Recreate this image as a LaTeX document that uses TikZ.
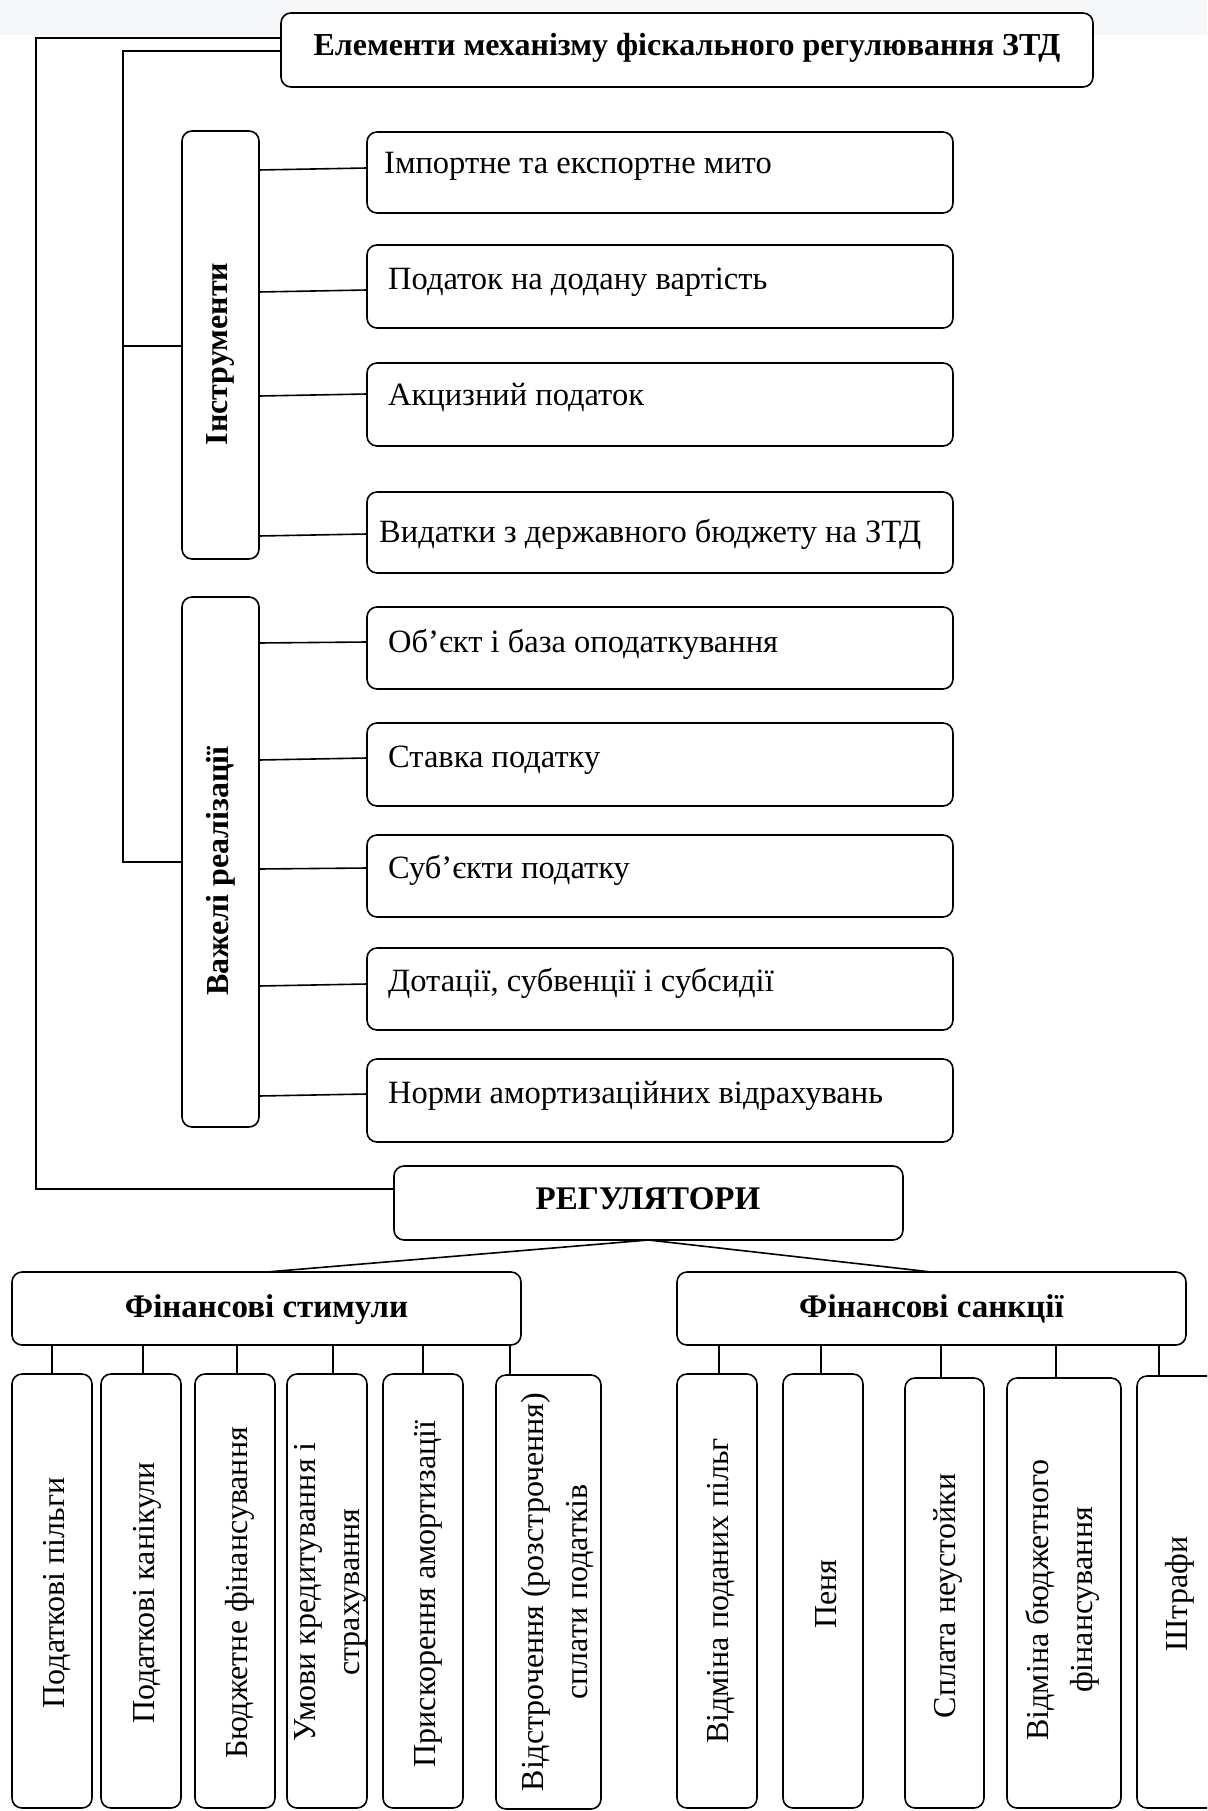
\documentclass[tikz,border=0pt]{standalone}
\usepackage{fontspec}
\setmainfont{Liberation Serif}
\usetikzlibrary{calc}
\definecolor{band}{RGB}{246,247,249}
\begin{document}
\begin{tikzpicture}[x=1pt,y=-1pt,
  bx/.style={draw, line width=1.6pt, rounded corners=10pt, fill=white, inner sep=0pt, outer sep=0pt, anchor=north west},
  ln/.style={line width=1.6pt},
  rt/.style={font=\fontsize{32.5}{38}\selectfont, anchor=base west, inner sep=0pt},
  vt/.style={font=\fontsize{32}{44}\selectfont, rotate=90, align=center, inner sep=0pt},
  vb/.style={font=\bfseries\fontsize{32}{38}\selectfont, rotate=90, inner sep=0pt},
  hb/.style={font=\bfseries\fontsize{33}{38}\selectfont, anchor=base, inner sep=0pt}]
\useasboundingbox (0,0) rectangle (1207,1811);
\clip (0,0) rectangle (1207,1811);
\fill[band] (0,0) rectangle (1207,35);

% top title
\node[bx, minimum width=812, minimum height=74] (title) at (281,13) {};
\node[hb, font=\bfseries\fontsize{32}{38}\selectfont] (titlet) at (687,56) {Елементи механізму фіскального регулювання ЗТД};

% left group boxes
\node[bx, minimum width=77, minimum height=428] (instr) at (182,131) {};
\node[vb, xshift=-9] (instrt) at (instr.center) {Інструменти};
\node[bx, minimum width=77, minimum height=530] (var) at (182,597) {};
\node[vb, xshift=-9] (vart) at (var.center) {Важелі реалізації};

% right boxes
\node[bx, minimum width=586, minimum height=81] (b1) at (367,132) {};
\node[bx, minimum width=586, minimum height=83] (b2) at (367,245) {};
\node[bx, minimum width=586, minimum height=83] (b3) at (367,363) {};
\node[bx, minimum width=586, minimum height=81] (b4) at (367,492) {};
\node[bx, minimum width=586, minimum height=82] (b5) at (367,607) {};
\node[bx, minimum width=586, minimum height=83] (b6) at (367,723) {};
\node[bx, minimum width=586, minimum height=82] (b7) at (367,835) {};
\node[bx, minimum width=586, minimum height=82] (b8) at (367,948) {};
\node[bx, minimum width=586, minimum height=83] (b9) at (367,1059) {};
\node[rt] (b1t) at (384,174) {Імпортне та експортне мито};
\node[rt] (b2t) at (388,289) {Податок на додану вартість};
\node[rt] (b3t) at (388,405) {Акцизний податок};
\node[rt] (b4t) at (379,542) {Видатки з державного бюджету на ЗТД};
\node[rt] (b5t) at (388,652) {Об’єкт і база оподаткування};
\node[rt] (b6t) at (388,767) {Ставка податку};
\node[rt] (b7t) at (388,878) {Суб’єкти податку};
\node[rt] (b8t) at (388,991) {Дотації, субвенції і субсидії};
\node[rt] (b9t) at (388,1103) {Норми амортизаційних відрахувань};

% connectors to right boxes
\draw[ln] (instr.east |- 0,170) -- (b1.west |- 0,168);
\draw[ln] (instr.east |- 0,292) -- (b2.west |- 0,290);
\draw[ln] (instr.east |- 0,396) -- (b3.west |- 0,394);
\draw[ln] (instr.east |- 0,536) -- (b4.west |- 0,534);
\draw[ln] (var.east |- 0,643) -- (b5.west |- 0,642);
\draw[ln] (var.east |- 0,760) -- (b6.west |- 0,758);
\draw[ln] (var.east |- 0,869) -- (b7.west |- 0,868);
\draw[ln] (var.east |- 0,986) -- (b8.west |- 0,984);
\draw[ln] (var.east |- 0,1096) -- (b9.west |- 0,1094);

% regulators
\node[bx, minimum width=509, minimum height=74] (reg) at (394,1166) {};
\node[hb] (regt) at (648,1209) {РЕГУЛЯТОРИ};

% outer feedback lines
\coordinate (busA) at (36,0);
\coordinate (busB) at (123,0);
\draw[ln] (title.west |- 0,38) -- (busA |- 0,38) -- (busA |- 0,1189) -- (reg.west |- 0,1189);
\draw[ln] (title.west |- 0,51) -- (busB |- 0,51) -- (busB |- 0,862) -- (var.west |- 0,862);
\draw[ln] (busB |- 0,346) -- (instr.west |- 0,346);

% second level
\node[bx, minimum width=509, minimum height=73] (stim) at (12,1272) {};
\node[bx, minimum width=509, minimum height=73] (san) at (677,1272) {};
\node[hb] (stimt) at (stim.center |- 0,1317) {Фінансові стимули};
\node[hb] (sant) at (san.center |- 0,1317) {Фінансові санкції};
\draw[ln] (reg.south) -- (stim.north);
\draw[ln] (reg.south) -- (san.north);

% stimuli boxes
\node[bx, minimum width=80, minimum height=434] (s1) at (12,1374) {};
\node[bx, minimum width=80, minimum height=434] (s2) at (101,1374) {};
\node[bx, minimum width=80, minimum height=434] (s3) at (195,1374) {};
\node[bx, minimum width=80, minimum height=434] (s4) at (287,1374) {};
\node[bx, minimum width=80, minimum height=434] (s5) at (383,1374) {};
\node[bx, minimum width=105, minimum height=434] (s6) at (496,1375) {};
\node[vt] (s1t) at ([xshift=5]s1.center |- 0,1593) {Податкові пільги};
\node[vt] (s2t) at ([xshift=6]s2.center |- 0,1593) {Податкові канікули};
\node[vt] (s3t) at ([xshift=5]s3.center |- 0,1593) {Бюджетне фінансування};
\node[vt] (s4t) at ([xshift=3]s4.center |- 0,1592) {Умови кредитування і\\страхування};
\node[vt] (s5t) at ([xshift=5]s5.center |- 0,1594) {Прискорення амортизації};
\node[vt] (s6t) at ([xshift=9]s6.center |- 0,1592) {Відстрочення (розстрочення)\\сплати податків};
\draw[ln] (stim.south -| s1.north) -- (s1.north);
\draw[ln] (stim.south -| 143,0) -- (s2.north -| 143,0);
\draw[ln] (stim.south -| 237,0) -- (s3.north -| 237,0);
\draw[ln] (stim.south -| 333,0) -- (s4.north -| 333,0);
\draw[ln] (stim.south -| s5.north) -- (s5.north);
\draw[ln] (stim.south -| 510,0) -- (s6.north -| 510,0);

% sanction boxes
\node[bx, minimum width=80, minimum height=434] (k1) at (677,1374) {};
\node[bx, minimum width=80, minimum height=434] (k2) at (783,1374) {};
\node[bx, minimum width=79, minimum height=430] (k3) at (905,1378) {};
\node[bx, minimum width=114, minimum height=430] (k4) at (1007,1378) {};
\node[bx, minimum width=90, minimum height=432] (k5) at (1137,1376) {};
\node[vt] (k1t) at ([xshift=4]k1.center |- 0,1591) {Відміна поданих пільг};
\node[vt] (k2t) at ([xshift=3]k2.center |- 0,1594) {Пеня};
\node[vt] (k3t) at ([xshift=3]k3.center |- 0,1596) {Сплата неустойки};
\node[vt] (k4t) at ([xshift=-2]k4.center |- 0,1600) {Відміна бюджетного\\фінансування};
\node[vt] (k5t) at (1180,1594) {Штрафи};
\draw[ln] (san.south -| 719,0) -- (k1.north -| 719,0);
\draw[ln] (san.south -| 821,0) -- (k2.north -| 821,0);
\draw[ln] (san.south -| 941,0) -- (k3.north -| 941,0);
\draw[ln] (san.south -| 1056,0) -- (k4.north -| 1056,0);
\draw[ln] (san.south -| 1159,0) -- (k5.north -| 1159,0);
\end{tikzpicture}
\end{document}
